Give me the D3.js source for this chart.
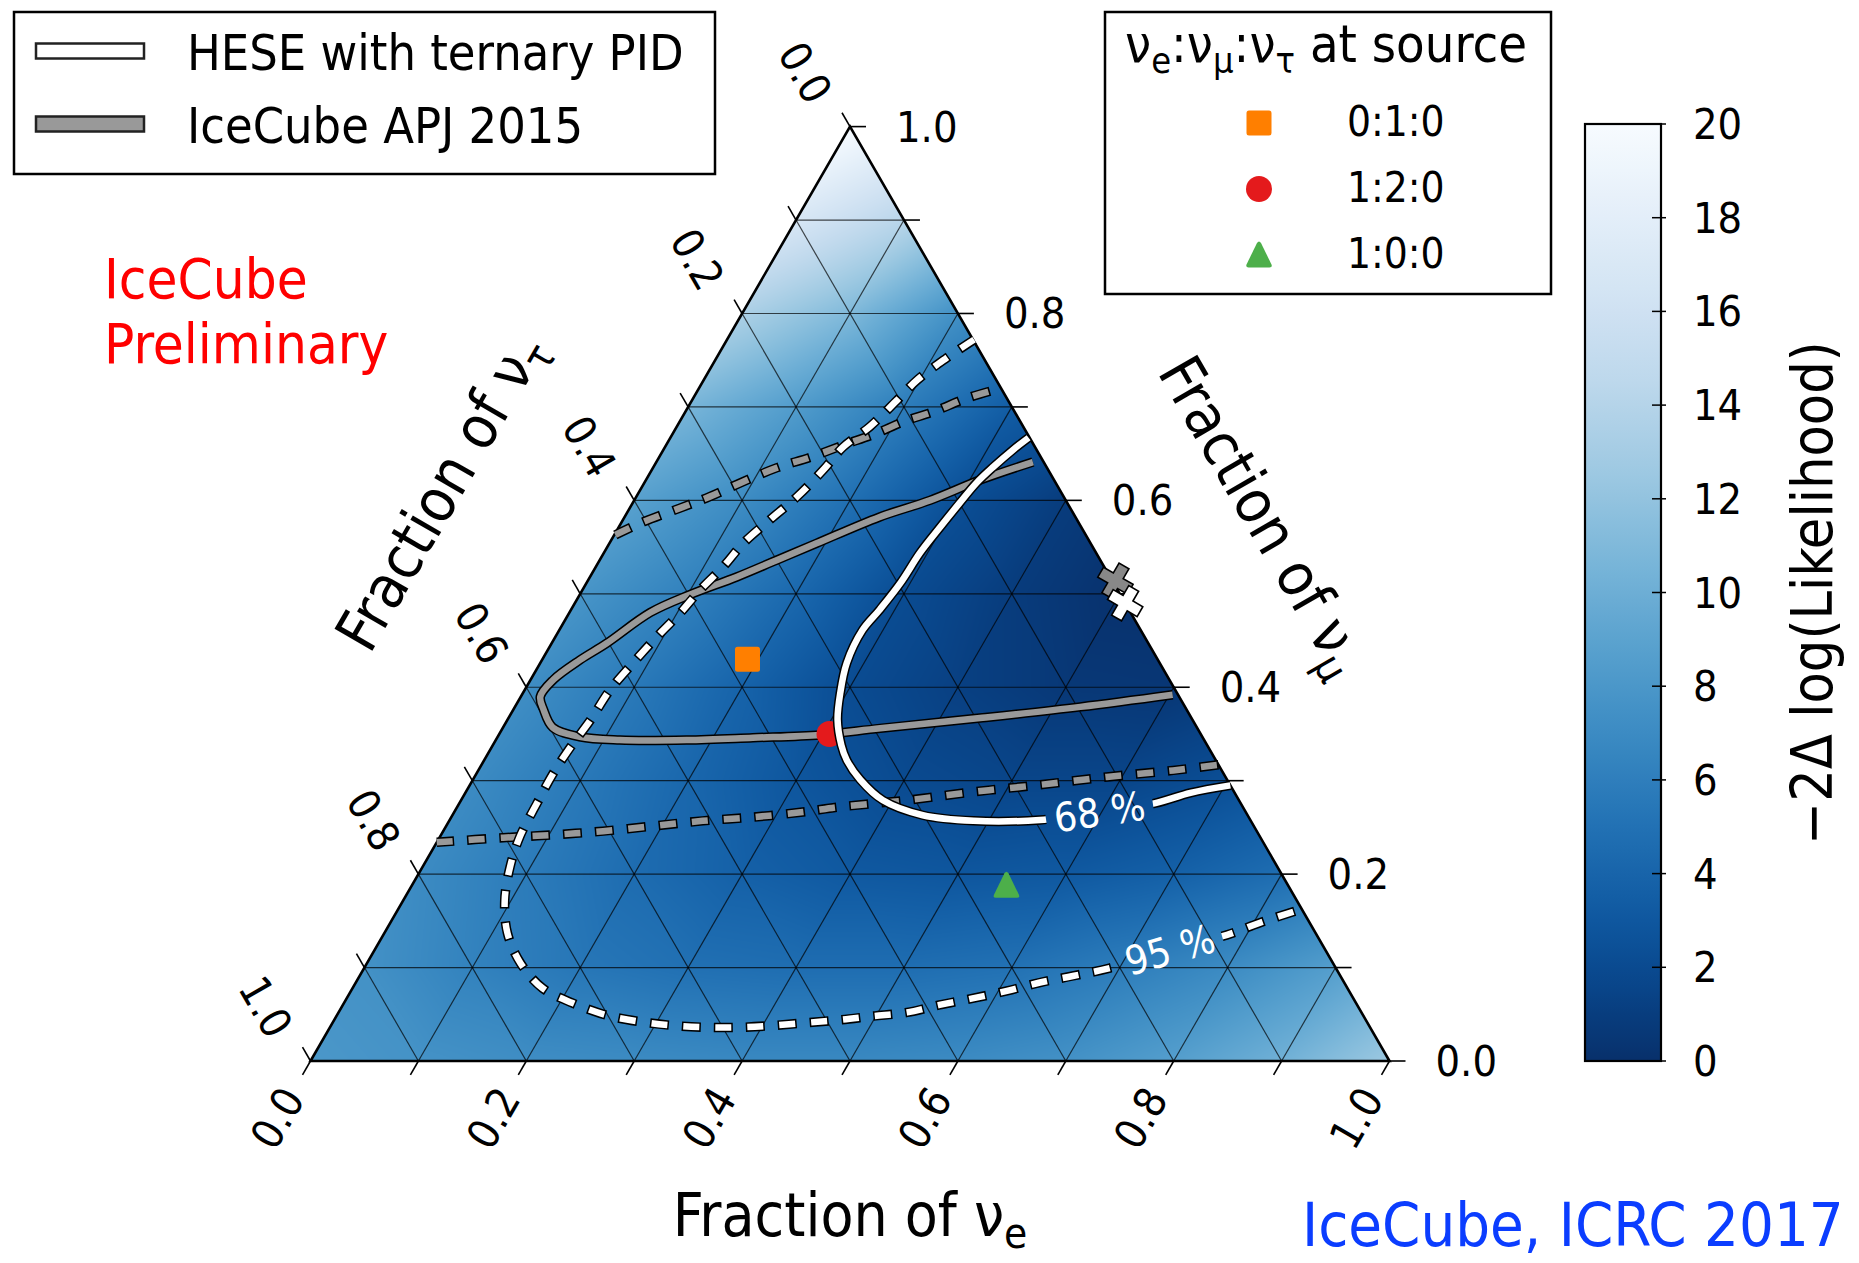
<!DOCTYPE html>
<html>
<head>
<meta charset="utf-8">
<script src="https://cdn.jsdelivr.net/npm/d3@7"></script>
<style>
  html, body { margin: 0; padding: 0; background: #fff; }
  svg text { font-family: 'DejaVu Sans Condensed', 'DejaVu Sans', sans-serif; }
</style>
</head>
<body>
<svg id="chart" width="1859" height="1263"></svg>
<script>
// ---------------------------------------------------------------------------
// Flavour-composition data (fractions of nu_e and nu_mu; nu_tau = 1 - e - mu)
// ---------------------------------------------------------------------------
const axisTicks = [0, 0.1, 0.2, 0.3, 0.4, 0.5, 0.6, 0.7, 0.8, 0.9, 1.0];
const axisLabelValues = [0, 0.2, 0.4, 0.6, 0.8, 1.0];
const axisLabelText = ["0.0", "0.2", "0.4", "0.6", "0.8", "1.0"];
const colorbarTicks = [0, 2, 4, 6, 8, 10, 12, 14, 16, 18, 20];

// -2 Delta log(L) on a 0.1 grid: row j is nu_mu = j/10, entry i is nu_e = i/10
const llhRows = [
  [8.0, 7.6, 7.2, 7.0, 6.8, 6.8, 7.0, 7.5, 8.6, 10.2, 12.5],
  [7.5, 6.3, 5.4, 4.9, 4.7, 4.7, 5.0, 5.9, 7.0, 8.6],
  [7.0, 5.8, 4.6, 3.7, 3.1, 2.9, 3.1, 3.7, 4.7],
  [7.0, 5.6, 4.2, 2.9, 2.0, 1.6, 1.6, 2.3],
  [7.2, 5.6, 3.9, 2.1, 1.2, 0.6, 0.5],
  [7.8, 6.2, 4.3, 2.1, 0.9, 0.1],
  [8.8, 7.1, 4.9, 2.35, 0.9],
  [10.6, 8.4, 5.9, 3.4],
  [13.4, 11.0, 7.4],
  [16.8, 14.2],
  [20.0]
];

// Contours as [nu_e, nu_mu] pairs
const hese68 = [
  [0.332, 0.667], [0.324, 0.654], [0.315, 0.636], [0.308, 0.619], [0.303, 0.597],
  [0.298, 0.572], [0.293, 0.544], [0.291, 0.512], [0.286, 0.483], [0.281, 0.461],
  [0.284, 0.426], [0.294, 0.394], [0.306, 0.365], [0.323, 0.338], [0.336, 0.322],
  [0.359, 0.301], [0.391, 0.279], [0.436, 0.263], [0.486, 0.257], [0.547, 0.258],
  [0.598, 0.2665], [0.645, 0.276], [0.672, 0.287], [0.705, 0.295]
];
const hese95 = [
  [0.229, 0.772], [0.213, 0.752], [0.198, 0.729], [0.190, 0.707], [0.179, 0.679],
  [0.165, 0.657], [0.159, 0.633], [0.149, 0.604], [0.136, 0.579], [0.124, 0.554],
  [0.118, 0.529], [0.109, 0.504], [0.103, 0.480], [0.094, 0.454], [0.086, 0.426],
  [0.079, 0.397], [0.077, 0.365], [0.073, 0.336], [0.071, 0.308], [0.072, 0.276],
  [0.074, 0.240], [0.081, 0.208], [0.094, 0.172], [0.114, 0.137], [0.142, 0.105],
  [0.176, 0.078], [0.212, 0.062], [0.250, 0.049], [0.285, 0.042], [0.317, 0.038],
  [0.349, 0.036], [0.380, 0.036], [0.410, 0.038], [0.440, 0.041], [0.469, 0.044],
  [0.497, 0.048], [0.527, 0.052], [0.553, 0.060], [0.580, 0.067], [0.608, 0.075],
  [0.634, 0.084], [0.661, 0.091], [0.691, 0.0995], [0.737, 0.1188], [0.782, 0.135],
  [0.806, 0.148], [0.836, 0.162]
];
const apj68 = [
  [0.349, 0.641], [0.310, 0.622], [0.274, 0.600], [0.236, 0.582],
  [0.192, 0.554], [0.164, 0.536], [0.136, 0.518], [0.102, 0.499], [0.075, 0.480],
  [0.051, 0.447], [0.035, 0.429], [0.021, 0.408], [0.018, 0.390], [0.028, 0.376],
  [0.046, 0.357], [0.076, 0.347], [0.115, 0.3435], [0.177, 0.3435], [0.237, 0.346],
  [0.298, 0.349], [0.350, 0.356], [0.437, 0.367], [0.524, 0.379], [0.603, 0.392]
];
const apj95Upper = [
  [0.001, 0.563], [0.020, 0.577], [0.047, 0.592], [0.068, 0.604], [0.091, 0.620],
  [0.115, 0.635], [0.140, 0.646], [0.164, 0.659], [0.189, 0.672], [0.207, 0.684],
  [0.230, 0.695], [0.254, 0.7095], [0.280, 0.720]
];
const apj95Lower = [
  [0.000, 0.234], [0.059, 0.239], [0.104, 0.242], [0.148, 0.246], [0.192, 0.2515],
  [0.235, 0.257], [0.280, 0.261], [0.323, 0.2665], [0.355, 0.272], [0.413, 0.279],
  [0.470, 0.288], [0.528, 0.2955], [0.586, 0.304], [0.644, 0.311], [0.683, 0.317]
];

// Contour labels (text and position on their contour)
const contourLabelText = ["68 %", "95 %"];
const contourLabelAt = [[0.598, 0.2665], [0.737, 0.1188]];

// Expected compositions at Earth for three source ratios
const sourceLabels = ["0:1:0", "1:2:0", "1:0:0"];
const sourceE = [0.190, 0.306, 0.551];
const sourceMu = [0.430, 0.350, 0.188];

// Best-fit points
const bestFitApj = [0.489, 0.514];
const bestFitHese = [0.510, 0.490];

// ---------------------------------------------------------------------------
const svg = d3.select("#chart");
const FS_TICK = 43;

const X = d3.scaleLinear().domain([0, 1]).range([310.5, 1389.5]);
const Y = d3.scaleLinear().domain([0, 1]).range([1061, 126.6]);
const P = (e, m) => [X(e + m / 2), Y(m)];
const color = d3.scaleSequential(d3.interpolateBlues).domain([20, 0]);

const defs = svg.append("defs");
const corners = [[0, 0], [1, 0], [0, 1]].map(d => P(d[0], d[1]));
defs.append("clipPath").attr("id", "triClip")
  .append("polygon").attr("points", corners.map(p => p.join(",")).join(" "));

// --- likelihood surface, linear within each grid triangle -----------------
function llh(e, m) {
  e = Math.max(0, e); m = Math.max(0, m);
  if (e + m > 1) { const s = e + m; e /= s; m /= s; }
  const u = e * 10, w = m * 10;
  const i = Math.min(Math.floor(u), 9);
  const j = Math.min(Math.floor(w), 9 - i);
  const fu = u - i, fw = w - j;
  const V = (a, b) => llhRows[b][a];
  if (fu + fw <= 1 || i + j >= 9) {
    return V(i, j) * (1 - fu - fw) + V(i + 1, j) * fu + V(i, j + 1) * fw;
  }
  return V(i + 1, j + 1) * (fu + fw - 1) + V(i, j + 1) * (1 - fu) + V(i + 1, j) * (1 - fw);
}
(function drawSurface() {
  const x0 = Math.floor(X(0)), x1 = Math.ceil(X(1));
  const y0 = Math.floor(Y(1)), y1 = Math.ceil(Y(0));
  const cw = x1 - x0, ch = y1 - y0;
  const canvas = document.createElement("canvas");
  canvas.width = cw; canvas.height = ch;
  const ctx = canvas.getContext("2d");
  const img = ctx.createImageData(cw, ch);
  const lut = d3.range(0, 2001).map(k => d3.rgb(color(k / 100)));
  for (let r = 0; r < ch; r++) {
    const m = Y.invert(y0 + r + 0.5);
    for (let c = 0; c < cw; c++) {
      const e = X.invert(x0 + c + 0.5) - m / 2;
      const v = llh(e, m);
      const col = lut[Math.max(0, Math.min(2000, Math.round(v * 100)))];
      const o = (r * cw + c) * 4;
      img.data[o] = col.r; img.data[o + 1] = col.g; img.data[o + 2] = col.b; img.data[o + 3] = 255;
    }
  }
  ctx.putImageData(img, 0, 0);
  svg.append("image").attr("x", x0).attr("y", y0).attr("width", cw).attr("height", ch)
    .attr("preserveAspectRatio", "none")
    .attr("href", canvas.toDataURL()).attr("clip-path", "url(#triClip)");
})();

// --- grid ------------------------------------------------------------------
const gridSegs = [];
axisTicks.slice(1, -1).forEach(t => {
  gridSegs.push([[t, 0], [t, 1 - t]]);
  gridSegs.push([[0, t], [1 - t, t]]);
  gridSegs.push([[1 - t, 0], [0, 1 - t]]);
});
svg.append("g").selectAll("line").data(gridSegs).join("line")
  .attr("x1", d => P(...d[0])[0]).attr("y1", d => P(...d[0])[1])
  .attr("x2", d => P(...d[1])[0]).attr("y2", d => P(...d[1])[1])
  .attr("stroke", "#000").attr("stroke-opacity", 0.7).attr("stroke-width", 1.2);

svg.append("polygon").attr("points", corners.map(p => p.join(",")).join(" "))
  .attr("fill", "none").attr("stroke", "#000").attr("stroke-width", 2.6);

// --- ticks and tick labels ---------------------------------------------------
const TL = 16;
const axes = [
  { at: t => P(t, 0), dir: [-0.5, 0.866], lab: [-33, 57], rot: -60, anchor: "middle" },       // nu_e
  { at: t => P(1 - t, t), dir: [1, 0], lab: [46, 0], rot: 0, anchor: "start" },              // nu_mu
  { at: t => P(0, 1 - t), dir: [-0.5, -0.866], lab: [-45, -54], rot: 60, anchor: "middle" }  // nu_tau
];
const tickG = svg.append("g");
axes.forEach(ax => {
  tickG.append("g").selectAll("line").data(axisTicks).join("line")
    .attr("x1", t => ax.at(t)[0]).attr("y1", t => ax.at(t)[1])
    .attr("x2", t => ax.at(t)[0] + ax.dir[0] * TL).attr("y2", t => ax.at(t)[1] + ax.dir[1] * TL)
    .attr("stroke", "#000").attr("stroke-width", 1.6);
  tickG.append("g").selectAll("text").data(axisLabelValues).join("text")
    .attr("transform", t => {
      const p = ax.at(t);
      return `translate(${p[0] + ax.lab[0]},${p[1] + ax.lab[1]}) rotate(${ax.rot})`;
    })
    .attr("text-anchor", ax.anchor).attr("dominant-baseline", "central")
    .attr("font-size", FS_TICK).attr("fill", "#000")
    .text((t, i) => axisLabelText[i]);
});

// --- contours ---------------------------------------------------------------
const line = d3.line().x(d => P(d[0], d[1])[0]).y(d => P(d[0], d[1])[1])
  .curve(d3.curveCatmullRom.alpha(0.5));

// label gaps on the ternary-PID contours
const mask = defs.append("mask").attr("id", "labelGap").attr("maskUnits", "userSpaceOnUse")
  .attr("x", 0).attr("y", 0).attr("width", 1859).attr("height", 1263);
mask.append("rect").attr("width", 1859).attr("height", 1263).attr("fill", "#fff");

function labelAngle(pts, at) {
  const k = d3.minIndex(pts, d => (d[0] - at[0]) ** 2 + (d[1] - at[1]) ** 2);
  const a = P(...pts[Math.max(0, k - 1)]), b = P(...pts[Math.min(pts.length - 1, k + 1)]);
  return Math.atan2(b[1] - a[1], b[0] - a[0]) * 180 / Math.PI;
}
const labelContours = [hese68, hese95];
const labelAngles = contourLabelAt.map((at, i) => labelAngle(labelContours[i], at));
contourLabelAt.forEach((at, i) => {
  const p = P(...at);
  mask.append("rect").attr("x", -54).attr("y", -20).attr("width", 108).attr("height", 40)
    .attr("fill", "#000")
    .attr("transform", `translate(${p[0]},${p[1]}) rotate(${labelAngles[i]})`);
});

function drawContour(g, pts, fill, dashed) {
  g.append("path").attr("d", line(pts)).attr("fill", "none")
    .attr("stroke", "#000").attr("stroke-width", 9.5)
    .attr("stroke-dasharray", dashed ? "19,13" : null)
    .attr("stroke-dashoffset", dashed ? 1.5 : null);
  g.append("path").attr("d", line(pts)).attr("fill", "none")
    .attr("stroke", fill).attr("stroke-width", 6.5)
    .attr("stroke-dasharray", dashed ? "16,16" : null);
}
const apjG = svg.append("g");
drawContour(apjG, apj95Upper, "#999", true);
drawContour(apjG, apj95Lower, "#999", true);
drawContour(apjG, apj68, "#999", false);

// --- source-composition markers ------------------------------------------------
const markerColors = ["#ff7f00", "#e41a1c", "#4daf4a"];
const markerPaths = [
  "M-12.5,-10 Q-12.5,-12.5 -10,-12.5 L10,-12.5 Q12.5,-12.5 12.5,-10 L12.5,10 Q12.5,12.5 10,12.5 L-10,12.5 Q-12.5,12.5 -12.5,10 Z",
  d3.symbol(d3.symbolCircle, Math.PI * 13 * 13)(),
  "M-2,-12 Q0,-15 2,-12 L12.5,9.5 Q13.5,12.5 10.5,12.5 L-10.5,12.5 Q-13.5,12.5 -12.5,9.5 Z"
];
svg.append("g").selectAll("path").data(sourceLabels).join("path")
  .attr("d", (d, i) => markerPaths[i])
  .attr("fill", (d, i) => markerColors[i])
  .attr("transform", (d, i) => {
    const p = P(sourceE[i], sourceMu[i]);
    return `translate(${p[0]},${p[1]})`;
  });

const heseG = svg.append("g").attr("mask", "url(#labelGap)");
drawContour(heseG, hese95, "#fff", true);
drawContour(heseG, hese68, "#fff", false);

svg.append("g").selectAll("text").data(contourLabelText).join("text")
  .attr("transform", (d, i) => {
    const p = P(...contourLabelAt[i]);
    return `translate(${p[0]},${p[1]}) rotate(${labelAngles[i]})`;
  })
  .attr("text-anchor", "middle").attr("dominant-baseline", "central")
  .attr("font-size", 40).attr("fill", "#fff").text(d => d);

// --- best-fit crosses ----------------------------------------------------------
const crossPath = d3.symbol(d3.symbolCross, 650)();
[[bestFitApj, "#888"], [bestFitHese, "#fff"]].forEach(([pt, fill]) => {
  const p = P(...pt);
  svg.append("path").attr("d", crossPath)
    .attr("transform", `translate(${p[0]},${p[1]}) rotate(30)`)
    .attr("fill", fill).attr("stroke", "#000").attr("stroke-width", 1.6);
});

// --- axis titles --------------------------------------------------------------
function nuTitle(g, x, y, rot, sub) {
  const t = g.append("text")
    .attr("transform", `translate(${x},${y}) rotate(${rot})`)
    .attr("text-anchor", "middle").attr("font-size", 60).attr("fill", "#000");
  t.append("tspan").text("Fraction of ν");
  t.append("tspan").attr("dy", 12).attr("font-size", 42).text(sub);
}
nuTitle(svg, 850, 1236, 0, "e");
nuTitle(svg.append("g").attr("transform", "translate(441,492) rotate(-60)"), 0, 20, 0, "τ");
nuTitle(svg.append("g").attr("transform", "translate(1263,516) rotate(60)"), 0, 20, 0, "μ");

// --- contour legend -------------------------------------------------------------
const legendLabels = ["HESE with ternary PID", "IceCube APJ 2015"];
const legendFills = ["#fff", "#999"];
const leg = svg.append("g");
leg.append("rect").attr("x", 14).attr("y", 12).attr("width", 701).attr("height", 162)
  .attr("fill", "#fff").attr("stroke", "#000").attr("stroke-width", 2.5);
legendLabels.forEach((lab, i) => {
  const cy = 51 + i * 73;
  leg.append("rect").attr("x", 36).attr("y", cy - 7.5).attr("width", 108).attr("height", 15)
    .attr("fill", legendFills[i]).attr("stroke", "#222").attr("stroke-width", 2.5);
  leg.append("text").attr("x", 187).attr("y", cy + 19).attr("font-size", 50).attr("fill", "#000").text(lab);
});

// --- source legend ---------------------------------------------------------------
const leg2 = svg.append("g");
leg2.append("rect").attr("x", 1105).attr("y", 12).attr("width", 446).attr("height", 282)
  .attr("fill", "#fff").attr("stroke", "#000").attr("stroke-width", 2.5);
const title2 = leg2.append("text").attr("x", 1125).attr("y", 62).attr("font-size", 52).attr("fill", "#000");
[["e", ":"], ["μ", ":"], ["τ", " at source"]].forEach(([sub, after]) => {
  title2.append("tspan").text("ν");
  title2.append("tspan").attr("dy", 11).attr("font-size", 36).text(sub);
  title2.append("tspan").attr("dy", -11).text(after);
});
sourceLabels.forEach((lab, i) => {
  const cy = 123 + i * 66;
  leg2.append("path").attr("d", markerPaths[i]).attr("fill", markerColors[i])
    .attr("transform", `translate(1259,${cy})`);
  leg2.append("text").attr("x", 1347).attr("y", cy + 13).attr("font-size", 42).attr("fill", "#000").text(lab);
});

// --- colour bar ----------------------------------------------------------------
const Ycb = d3.scaleLinear().domain([0, 20]).range([1061, 124]);
const grad = defs.append("linearGradient").attr("id", "cbGrad")
  .attr("x1", 0).attr("y1", 1).attr("x2", 0).attr("y2", 0);
d3.range(0, 20.01, 0.5).forEach(v => {
  grad.append("stop").attr("offset", v / 20).attr("stop-color", color(v));
});
svg.append("rect").attr("x", 1585).attr("y", Ycb(20)).attr("width", 76).attr("height", Ycb(0) - Ycb(20))
  .attr("fill", "url(#cbGrad)").attr("stroke", "#000").attr("stroke-width", 2.2);
const cbG = svg.append("g");
cbG.selectAll("line").data(colorbarTicks).join("line")
  .attr("x1", 1652).attr("x2", 1666).attr("y1", d => Ycb(d)).attr("y2", d => Ycb(d))
  .attr("stroke", "#000").attr("stroke-width", 1.5);
cbG.selectAll("text").data(colorbarTicks).join("text")
  .attr("x", 1693).attr("y", d => Ycb(d)).attr("dominant-baseline", "central")
  .attr("font-size", FS_TICK).attr("fill", "#000").text(d => d);
svg.append("text").attr("transform", "translate(1832,593) rotate(-90)")
  .attr("text-anchor", "middle").attr("font-size", 57).attr("fill", "#000")
  .text("−2Δ log(Likelihood)");

// --- annotations -----------------------------------------------------------------
const prelim = svg.append("text").attr("font-size", 56).attr("fill", "#ff0000");
prelim.append("tspan").attr("x", 104).attr("y", 298).text("IceCube");
prelim.append("tspan").attr("x", 104).attr("y", 363).text("Preliminary");
svg.append("text").attr("x", 1302).attr("y", 1246).attr("font-size", 61).attr("fill", "#0b3dff")
  .text("IceCube, ICRC 2017");
</script>
</body>
</html>
